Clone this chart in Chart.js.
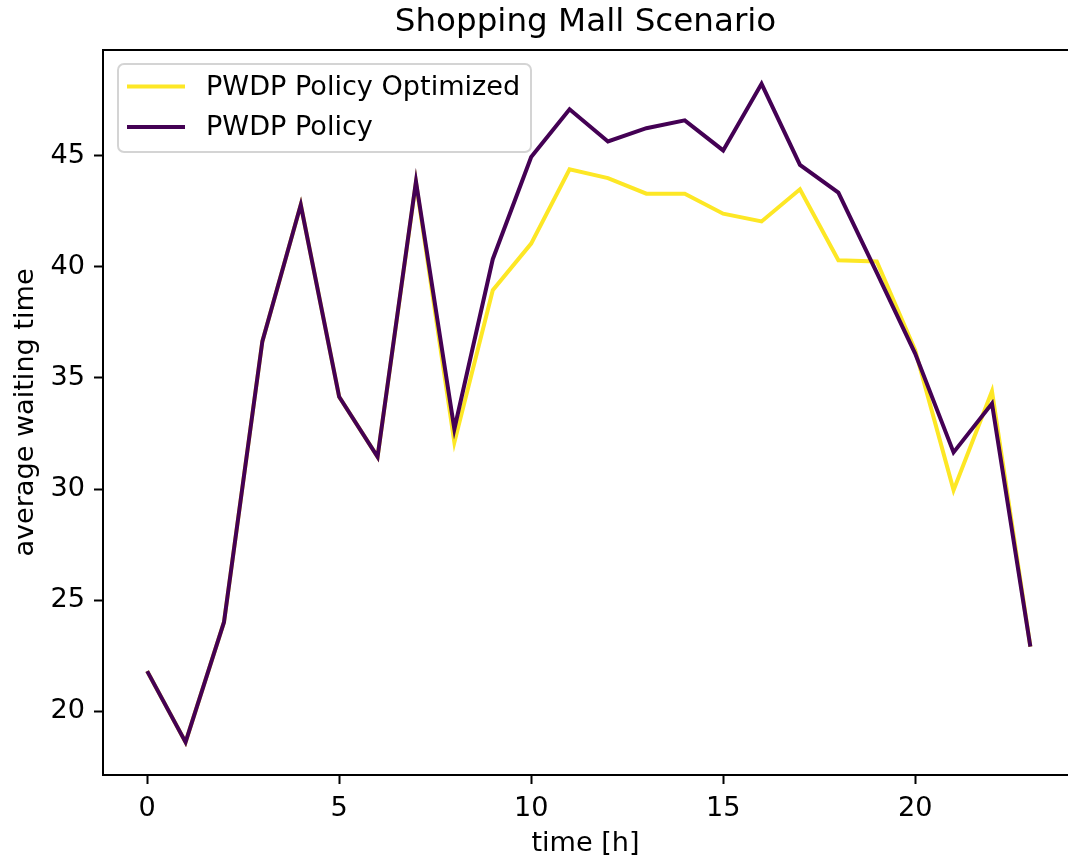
<!DOCTYPE html>
<html>
<head>
<meta charset="utf-8">
<title>Shopping Mall Scenario</title>
<script src="https://cdn.jsdelivr.net/npm/chart.js@4.4.1/dist/chart.umd.min.js"></script>
<style>
  html, body { margin: 0; padding: 0; background: #ffffff; overflow: hidden; }
  canvas { display: block; }
</style>
</head>
<body>
<canvas id="chart" width="1068" height="860"></canvas>
<script>
// Hour of the day
const hours = [0, 1, 2, 3, 4, 5, 6, 7, 8, 9, 10, 11, 12, 13, 14, 15, 16, 17, 18, 19, 20, 21, 22, 23];

// Average waiting time per hour
const optimizedWaiting = [21.8, 18.6, 24.0, 36.65, 42.8, 34.15, 31.45, 43.8, 32.1, 38.95, 41.05, 44.4,
                          44.0, 43.3, 43.3, 42.4, 42.05, 43.5, 40.3, 40.25, 36.25, 29.95, 34.4, 22.9];
const policyWaiting    = [21.8, 18.6, 24.0, 36.65, 42.8, 34.15, 31.45, 43.85, 32.7, 40.35, 44.95, 47.1,
                          45.65, 46.25, 46.6, 45.25, 48.25, 44.6, 43.35, 39.75, 36.1, 31.65, 33.85, 22.9];

const seriesNames = ['PWDP Policy Optimized', 'PWDP Policy'];

// Tick positions
const xTicks = [0, 5, 10, 15, 20];
const yTicks = [20, 25, 30, 35, 40, 45];

const FONT = 'DejaVu Sans';
const BASE = 27.1;
const TITLE_SIZE = 32.6;
const YELLOW = '#fde725';
const PURPLE = '#440154';
const LINE_W = 4;

Chart.defaults.font.family = FONT;
Chart.defaults.color = '#000000';

const toPoints = vals => hours.map((h, i) => ({ x: h, y: vals[i] }));

// Top spine of the axes box (the right side runs off the canvas)
const framePlugin = {
  id: 'frame',
  afterDatasetsDraw(chart) {
    const { ctx, chartArea: a } = chart;
    ctx.save();
    ctx.strokeStyle = '#000000';
    ctx.lineWidth = 2;
    ctx.beginPath();
    ctx.moveTo(a.left - 1, a.top);
    ctx.lineTo(chart.width, a.top);
    ctx.stroke();
    ctx.restore();
  }
};

// Boxed legend in the upper-left corner of the plotting area
const boxedLegend = {
  id: 'boxedLegend',
  afterDraw(chart) {
    const { ctx } = chart;
    const ds = chart.data.datasets;
    const x0 = 118, y0 = 64, w = 413, h = 88, r = 6;
    ctx.save();
    ctx.beginPath();
    ctx.roundRect(x0, y0, w, h, r);
    ctx.fillStyle = 'rgba(255,255,255,0.8)';
    ctx.fill();
    ctx.strokeStyle = 'rgba(204,204,204,0.85)';
    ctx.lineWidth = 2;
    ctx.stroke();
    ctx.font = BASE + 'px "' + FONT + '"';
    ctx.textBaseline = 'middle';
    ctx.textAlign = 'left';
    ds.forEach((d, i) => {
      const cy = 86.5 + i * 40.5;
      ctx.beginPath();
      ctx.moveTo(127, cy);
      ctx.lineTo(185, cy);
      ctx.strokeStyle = d.borderColor;
      ctx.lineWidth = LINE_W;
      ctx.lineCap = 'butt';
      ctx.stroke();
      ctx.fillStyle = '#000000';
      ctx.fillText(d.label, 206, cy + 1);
    });
    ctx.restore();
  }
};

new Chart(document.getElementById('chart'), {
  type: 'line',
  data: {
    datasets: [
      {
        label: seriesNames[0],
        data: toPoints(optimizedWaiting),
        borderColor: YELLOW,
        backgroundColor: YELLOW,
        borderWidth: LINE_W,
        pointRadius: 0,
        tension: 0,
        order: 1
      },
      {
        label: seriesNames[1],
        data: toPoints(policyWaiting),
        borderColor: PURPLE,
        backgroundColor: PURPLE,
        borderWidth: LINE_W,
        pointRadius: 0,
        tension: 0,
        order: 0
      }
    ]
  },
  options: {
    responsive: false,
    animation: false,
    devicePixelRatio: 1,
    layout: { padding: { left: 0, right: 0, top: 0, bottom: 0 } },
    plugins: {
      legend: { display: false },
      tooltip: { enabled: false },
      title: {
        display: true,
        text: 'Shopping Mall Scenario',
        fullSize: false,
        color: '#000000',
        font: { family: FONT, size: TITLE_SIZE, weight: 'normal' },
        padding: { top: 3, bottom: 7.9 }
      }
    },
    scales: {
      x: {
        type: 'linear',
        min: -1.15,
        max: 23.98,
        afterFit(scale) {
          scale.height = 85;
          scale.paddingLeft = 0;
          scale.paddingRight = 0;
        },
        afterBuildTicks(scale) { scale.ticks = xTicks.map(v => ({ value: v })); },
        grid: {
          drawOnChartArea: false,
          drawTicks: true,
          tickLength: 9,
          tickColor: '#000000',
          tickWidth: 2
        },
        border: { display: true, color: '#000000', width: 2 },
        ticks: {
          padding: 9,
          maxRotation: 0,
          autoSkip: false,
          font: { family: FONT, size: BASE },
          color: '#000000',
          callback: v => String(v)
        },
        title: {
          display: true,
          text: 'time [h]',
          color: '#000000',
          font: { family: FONT, size: BASE },
          padding: { top: 0, bottom: 0 }
        }
      },
      y: {
        type: 'linear',
        min: 17.12,
        max: 49.77,
        afterFit(scale) {
          scale.width = 103;
          scale.paddingTop = 0;
          scale.paddingBottom = 0;
        },
        afterBuildTicks(scale) { scale.ticks = yTicks.map(v => ({ value: v })); },
        grid: {
          drawOnChartArea: false,
          drawTicks: true,
          tickLength: 9,
          tickColor: '#000000',
          tickWidth: 2
        },
        border: { display: true, color: '#000000', width: 2 },
        ticks: {
          padding: 9,
          autoSkip: false,
          font: { family: FONT, size: BASE },
          color: '#000000',
          callback: v => String(v)
        },
        title: {
          display: true,
          text: 'average waiting time',
          color: '#000000',
          font: { family: FONT, size: BASE },
          padding: { top: 10, bottom: 0 }
        }
      }
    }
  },
  plugins: [framePlugin, boxedLegend]
});
</script>
</body>
</html>
